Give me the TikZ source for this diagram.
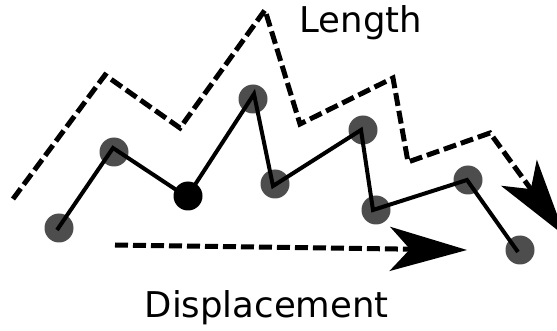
\documentclass[tikz,border=0pt]{standalone}
\usepackage{fontspec}
\setmainfont{DejaVu Sans}
\usetikzlibrary{arrows.meta}
\definecolor{dotgray}{HTML}{4D4D4D}
\tikzset{
  dot/.style={circle,fill=dotgray,inner sep=0pt,minimum size=29pt},
  blackdot/.style={dot,fill=black},
  walk/.style={line width=4pt,line join=miter},
  dashline/.style={line width=5pt,dash pattern=on 13pt off 5pt},
  lbl/.style={inner sep=0pt,font=\fontsize{35.5}{42}\selectfont,anchor=base west}
}
\begin{document}
\begin{tikzpicture}[x=1pt,y=-1pt]
\useasboundingbox (0,0) rectangle (557,331);
% dots
\node[dot] (p1) at (59,228) {};
\node[dot] (p2) at (114,152) {};
\node[blackdot] (p3) at (188,196) {};
\node[dot] (p4) at (253,99) {};
\node[dot] (p5) at (275,184) {};
\node[dot] (p6) at (363,130) {};
\node[dot] (p7) at (376,210) {};
\node[dot] (p8) at (468,180) {};
\node[dot] (p9) at (520,250) {};
% walk vertices
\coordinate (v1) at (57,230);
\coordinate (v2) at (113,148);
\coordinate (v3) at (187,197);
\coordinate (v4) at (254,94);
\coordinate (v5) at (273,186);
\coordinate (v6) at (361,130);
\coordinate (v7) at (373,210);
\coordinate (v8) at (467,180);
\coordinate (v9) at (518,252);
\draw[walk] (v1) -- (v2) -- (v3) -- (v4) -- (v5) -- (v6) -- (v7) -- (v8) -- (v9);
% length path
\coordinate (l0) at (13,199);
\coordinate (l1) at (105,75);
\coordinate (l2) at (180,128);
\coordinate (l3) at (265,10);
\coordinate (l4) at (300,124);
\coordinate (l5) at (393,78);
\coordinate (l6) at (408,162);
\coordinate (l7) at (490,133);
\coordinate (l8) at (565,236);
\draw[dashline,-{Stealth[length=78pt,width=44pt,inset=20pt]}] (l0) -- (l1) -- (l2) -- (l3) -- (l4) -- (l5) -- (l6) -- (l7) -- (l8);
% displacement
\coordinate (d0) at (115,245);
\coordinate (d1) at (467,250);
\draw[dashline,-{Stealth[length=77pt,width=44pt,inset=20pt]}] (d0) -- (d1);
% labels
\node[lbl] (len) at (299.5,33) {Length};
\node[lbl] (disp) at (144.5,317) {Displacement};
\end{tikzpicture}
\end{document}
